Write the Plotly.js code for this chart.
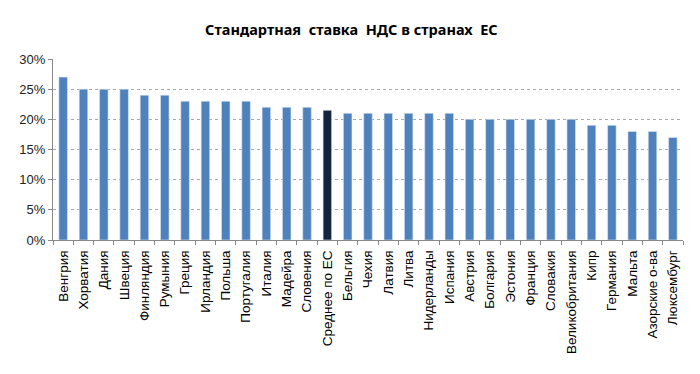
<!DOCTYPE html>
<html><head><meta charset="utf-8">
<script src="https://cdn.plot.ly/plotly-3.0.1.min.js"></script>
<style>html,body{margin:0;padding:0;background:#fff;}#c{width:700px;height:374px;}</style>
</head><body><div id="c"></div>
<script>
const countries = ["Венгрия","Хорватия","Дания","Швеция","Финляндия","Румыния","Греция","Ирландия","Польша","Португалия","Италия","Мадейра","Словения","Среднее по ЕС","Бельгия","Чехия","Латвия","Литва","Нидерланды","Испания","Австрия","Болгария","Эстония","Франция","Словакия","Великобритания","Кипр","Германия","Мальта","Азорские о-ва","Люксембург"];
const vatRates = [0.27,0.25,0.25,0.25,0.24,0.24,0.23,0.23,0.23,0.23,0.22,0.22,0.22,0.215,0.21,0.21,0.21,0.21,0.21,0.21,0.20,0.20,0.20,0.20,0.20,0.20,0.19,0.19,0.18,0.18,0.17];
const yTickVals = [0,0.05,0.10,0.15,0.20,0.25,0.30];
const yTickText = ["0%","5%","10%","15%","20%","25%","30%"];
const colors = countries.map(c => c === "Среднее по ЕС" ? "#14243f" : "#4f81bd");
Plotly.newPlot("c", [{
  type: "bar", x: countries, y: vatRates,
  marker: {color: colors, line: {color: "#dbe6f3", width: 0.6}},
  hoverinfo: "x+y"
}], {
  width: 700, height: 374,
  margin: {l: 53, r: 17, t: 59, b: 134},
  paper_bgcolor: "#fff", plot_bgcolor: "#fff",
  bargap: 0.58,
  showlegend: false,
  title: {text: "<b>Стандартная\u00a0 ставка\u00a0 НДС в странах\u00a0 ЕС</b>", x: 0.502, xanchor: "center", y: 0.92, yanchor: "middle",
    font: {family: "Noto Sans, Open Sans, sans-serif", size: 14.5, color: "#000"}},
  xaxis: {
    tickangle: -90, tickson: "boundaries", ticks: "outside", ticklen: 4, tickcolor: "#888",
    ticklabelstandoff: 4,
    showline: true, linecolor: "#888", linewidth: 1, showgrid: false,
    tickfont: {family: "Liberation Sans, Arial, sans-serif", size: 13.5, color: "#000"}
  },
  yaxis: {
    range: [0, 0.30], tickvals: yTickVals, ticktext: yTickText,
    showline: true, linecolor: "#888", linewidth: 1, ticks: "outside", ticklen: 4, tickcolor: "#888",
    showgrid: true, gridcolor: "#a8a8a8", griddash: "dot", gridwidth: 1,
    zeroline: false,
    tickfont: {family: "Liberation Sans, Arial, sans-serif", size: 13, color: "#222"}
  }
}, {displayModeBar: false, staticPlot: true});
</script></body></html>
